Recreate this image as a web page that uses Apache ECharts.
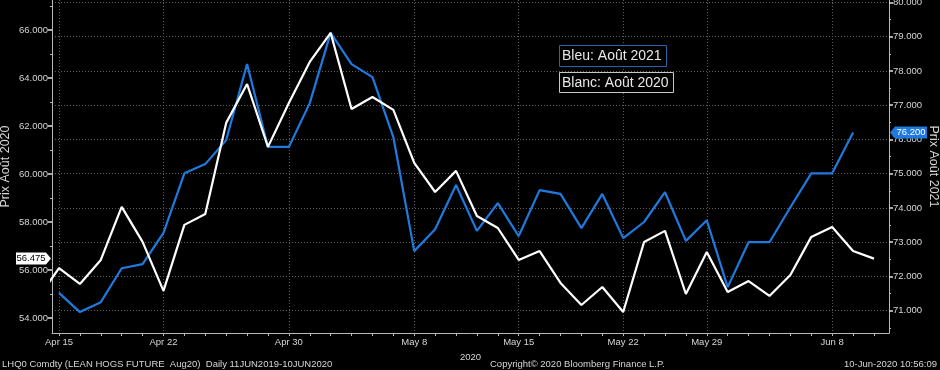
<!DOCTYPE html>
<html><head><meta charset="utf-8">
<script src="https://cdn.jsdelivr.net/npm/echarts@6/dist/echarts.min.js"></script>
<style>html,body{margin:0;padding:0;background:#000}#c{width:940px;height:370px}</style>
</head><body><div id="c"></div>
<script>
const dates = ['Apr 14','Apr 15','Apr 16','Apr 17','Apr 20','Apr 21','Apr 22','Apr 23','Apr 24','Apr 27','Apr 28','Apr 29','Apr 30','May 1',
  'May 4','May 5','May 6','May 7','May 8','May 11','May 12','May 13','May 14','May 15','May 18','May 19','May 20','May 21','May 22',
  'May 26','May 27','May 28','May 29','Jun 1','Jun 2','Jun 3','Jun 4','Jun 5','Jun 8','Jun 9','Jun 10'];
const aug2020 = [54.83,56.08,55.42,56.42,58.63,57.17,55.13,57.88,58.33,62.13,63.75,61.13,62.96,64.67,
  65.88,62.71,63.21,62.67,60.46,59.25,60.13,58.25,57.75,56.42,56.79,55.46,54.54,55.29,54.25,
  57.17,57.63,55.00,56.75,55.08,55.54,54.92,55.79,57.38,57.79,56.79,56.475];
const aug2021 = [null,71.52,70.96,71.25,72.24,72.36,73.27,75.01,75.28,75.98,78.20,75.78,75.78,77.06,
  79.11,78.20,77.82,76.07,72.74,73.38,74.67,73.33,74.14,73.18,74.52,74.41,73.41,74.41,73.12,
  73.59,74.46,73.04,73.64,71.69,73.00,73.00,74.02,75.01,75.01,76.20,null];
const dateTickLabels = ['Apr 15','Apr 22','Apr 30','May 8','May 15','May 22','May 29','Jun 8'];
const leftTicks = [54,56,58,60,62,64,66];
const leftMinorTicks = [55,57,59,61,63,65,67];
const rightTicks = [71,72,73,74,75,76,77,78,79,80];
const rightMinorTicks = [70.5,71.5,72.5,73.5,74.5,75.5,76.5,77.5,78.5,79.5];
const leftName = 'Prix Août 2020';
const rightName = 'Prix Août 2021';
const xName = '2020';
const legendBlue = 'Bleu: Août 2021';
const legendWhite = 'Blanc: Août 2020';
const footLeft = 'LHQ0 Comdty (LEAN HOGS FUTURE  Aug20)  Daily 11JUN2019-10JUN2020';
const footMid = 'Copyright\u00A9 2020 Bloomberg Finance L.P.';
const footRight = '10-Jun-2020 10:56:09';

const BLUE = '#1f7ae0';
const TXT = '#d6d6d6';
const AX = '#b8b8b8';
const FS = 9.5;
const SMALL = {color: TXT, fontSize: FS, fontFamily: '"Liberation Sans", sans-serif'};
const grid = {left: 52, right: 51, top: 0, bottom: 37, containLabel: false, outerBoundsMode: 'none'};
const xMin = 0.665, xMax = 40.72;
const allIdx = dates.map((d, i) => i);
const labelIdx = dateTickLabels.map(d => dates.indexOf(d));
const dotted = {color: '#5e5e5e', type: [1, 2], width: 1};
const NAMESTYLE = {color: TXT, fontSize: 12.5, fontFamily: '"Liberation Sans", sans-serif'};

const chart = echarts.init(document.getElementById('c'), null, {renderer: 'canvas'});
const option = {
  backgroundColor: '#000',
  animation: false,
  grid: grid,
  xAxis: [
    {type: 'value', min: xMin, max: xMax, position: 'bottom',
     axisLine: {show: true, onZero: false, lineStyle: {color: AX}},
     axisTick: {show: true, customValues: allIdx, length: 3, lineStyle: {color: AX}},
     axisLabel: Object.assign({customValues: labelIdx, margin: 4, formatter: v => dates[Math.round(v)]}, SMALL),
     splitLine: {show: false},
     name: xName, nameLocation: 'middle', nameGap: 19, nameMoveOverlap: false, nameTextStyle: SMALL},
    {type: 'value', min: xMin, max: xMax, position: 'bottom',
     axisLine: {show: false}, axisLabel: {show: false},
     axisTick: {show: false, customValues: labelIdx},
     splitLine: {show: true, lineStyle: dotted}}
  ],
  yAxis: [
    {type: 'value', min: 53.375, max: 67.25, position: 'left',
     axisLine: {show: true, onZero: false, lineStyle: {color: AX}},
     axisTick: {show: true, customValues: leftTicks, length: 4, lineStyle: {color: '#e0e0e0', width: 1.5}},
     axisLabel: Object.assign({customValues: leftTicks, margin: 4, formatter: v => v.toFixed(3)}, SMALL),
     splitLine: {show: false},
     name: leftName, nameLocation: 'middle', nameGap: 40, nameRotate: 90, nameMoveOverlap: false,
     nameTextStyle: NAMESTYLE},
    {type: 'value', min: 70.35, max: 80.07, position: 'right',
     axisLine: {show: true, onZero: false, lineStyle: {color: AX}},
     axisTick: {show: true, customValues: rightTicks, length: 4, lineStyle: {color: '#e0e0e0', width: 1.5}},
     axisLabel: Object.assign({customValues: rightTicks, margin: 4, formatter: v => v.toFixed(3)}, SMALL),
     splitLine: {show: true, lineStyle: dotted},
     name: rightName, nameLocation: 'middle', nameGap: 38, nameRotate: -90, nameMoveOverlap: false,
     nameTextStyle: NAMESTYLE},
    {type: 'value', min: 53.375, max: 67.25, position: 'left',
     axisLine: {show: false}, axisLabel: {show: false}, splitLine: {show: false},
     axisTick: {show: true, customValues: leftMinorTicks, length: 2, lineStyle: {color: AX}}},
    {type: 'value', min: 70.35, max: 80.07, position: 'right',
     axisLine: {show: false}, axisLabel: {show: false}, splitLine: {show: false},
     axisTick: {show: true, customValues: rightMinorTicks, length: 2, lineStyle: {color: AX}}}
  ],
  series: [
    {type: 'line', xAxisIndex: 0, yAxisIndex: 1, showSymbol: false, symbol: 'none', z: 3,
     lineStyle: {color: BLUE, width: 2.2}, clip: true,
     data: aug2021.map((v, i) => [i, v]).filter(p => p[1] !== null)},
    {type: 'line', xAxisIndex: 0, yAxisIndex: 0, showSymbol: false, symbol: 'none', z: 4,
     lineStyle: {color: '#ffffff', width: 2.2}, clip: true,
     data: aug2020.map((v, i) => [i, v]).filter(p => p[1] !== null)}
  ]
};
chart.setOption(option);

const lastWhite = aug2020[aug2020.length - 1];
const blueVals = aug2021.filter(v => v !== null);
const lastBlue = blueVals[blueVals.length - 1];
const yW = chart.convertToPixel({yAxisIndex: 0}, lastWhite);
const yB = chart.convertToPixel({yAxisIndex: 1}, lastBlue);
const axL = grid.left, axR = 940 - grid.right;
const tagFont = FS + 'px "Liberation Sans", sans-serif';

chart.setOption({
  graphic: [
    {type: 'polygon', z: 100, shape: {points: [[axL - 36, yW - 6], [axL - 6, yW - 6], [axL - 1, yW], [axL - 6, yW + 6], [axL - 36, yW + 6]]},
     style: {fill: '#ffffff'}},
    {type: 'text', z: 101, x: axL - 21, y: yW, style: {text: lastWhite.toFixed(3), fill: '#000', font: tagFont, align: 'center', verticalAlign: 'middle'}},
    {type: 'polygon', z: 100, shape: {points: [[axR + 1, yB], [axR + 6, yB - 6], [axR + 38, yB - 6], [axR + 38, yB + 6], [axR + 6, yB + 6]]},
     style: {fill: BLUE}},
    {type: 'text', z: 101, x: axR + 22, y: yB, style: {text: lastBlue.toFixed(3), fill: '#fff', font: tagFont, align: 'center', verticalAlign: 'middle'}},
    {type: 'rect', z: 50, shape: {x: 559.5, y: 45.5, width: 107, height: 21}, style: {fill: '#000', stroke: '#2a64a8', lineWidth: 1}},
    {type: 'text', z: 51, x: 562, y: 56.5, style: {text: legendBlue, fill: '#e8e8e8', font: '14px "Liberation Sans", sans-serif', verticalAlign: 'middle'}},
    {type: 'rect', z: 50, shape: {x: 559.5, y: 72.5, width: 114, height: 20}, style: {fill: '#000', stroke: '#c8c8c8', lineWidth: 1}},
    {type: 'text', z: 51, x: 562, y: 83, style: {text: legendWhite, fill: '#e8e8e8', font: '14px "Liberation Sans", sans-serif', verticalAlign: 'middle'}},
    {type: 'text', z: 51, x: 2, y: 364, style: {text: footLeft, fill: TXT, font: tagFont, verticalAlign: 'middle'}},
    {type: 'text', z: 51, x: 490, y: 364, style: {text: footMid, fill: TXT, font: tagFont, verticalAlign: 'middle'}},
    {type: 'text', z: 51, x: 937, y: 364, style: {text: footRight, fill: TXT, font: tagFont, align: 'right', verticalAlign: 'middle'}}
  ]
});
</script></body></html>
